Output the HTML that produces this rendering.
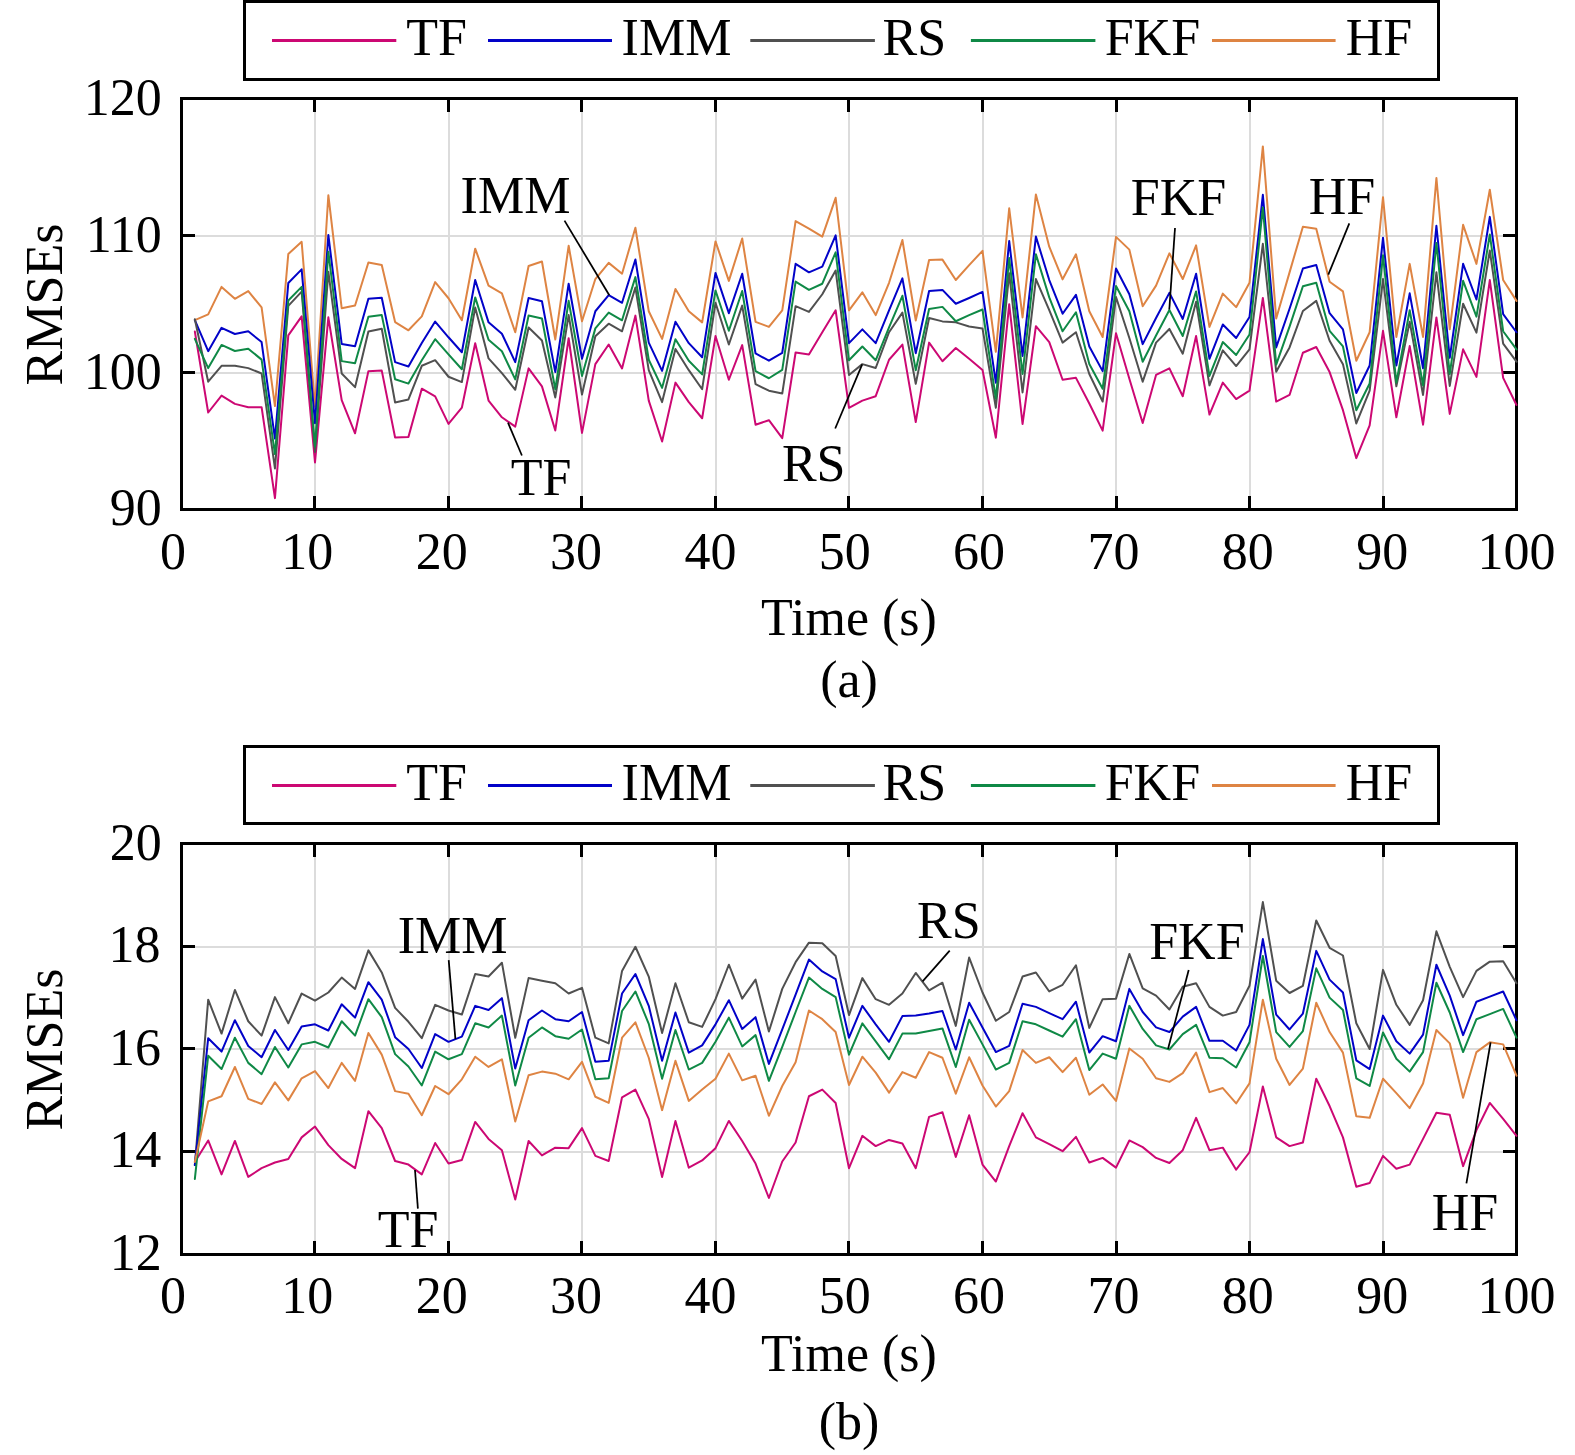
<!DOCTYPE html>
<html><head><meta charset="utf-8"><title>RMSEs</title>
<style>
html,body{margin:0;padding:0;background:#fff;}
body{width:1575px;height:1455px;overflow:hidden;}
svg{display:block;}
svg text{font-family:"Liberation Serif",serif;font-size:52px;fill:#000;}
</style></head><body>
<svg width="1575" height="1455" viewBox="0 0 1575 1455">
<rect width="1575" height="1455" fill="#fff"/>
<g id="panel-a">
<line x1="315.00" y1="98.5" x2="315.00" y2="509.5" stroke="#DCDCDC" stroke-width="2"/>
<line x1="449.00" y1="98.5" x2="449.00" y2="509.5" stroke="#DCDCDC" stroke-width="2"/>
<line x1="582.00" y1="98.5" x2="582.00" y2="509.5" stroke="#DCDCDC" stroke-width="2"/>
<line x1="716.00" y1="98.5" x2="716.00" y2="509.5" stroke="#DCDCDC" stroke-width="2"/>
<line x1="849.00" y1="98.5" x2="849.00" y2="509.5" stroke="#DCDCDC" stroke-width="2"/>
<line x1="983.00" y1="98.5" x2="983.00" y2="509.5" stroke="#DCDCDC" stroke-width="2"/>
<line x1="1116.00" y1="98.5" x2="1116.00" y2="509.5" stroke="#DCDCDC" stroke-width="2"/>
<line x1="1250.00" y1="98.5" x2="1250.00" y2="509.5" stroke="#DCDCDC" stroke-width="2"/>
<line x1="1383.00" y1="98.5" x2="1383.00" y2="509.5" stroke="#DCDCDC" stroke-width="2"/>
<line x1="181.5" y1="373.00" x2="1516.5" y2="373.00" stroke="#DCDCDC" stroke-width="2"/>
<line x1="181.5" y1="236.00" x2="1516.5" y2="236.00" stroke="#DCDCDC" stroke-width="2"/>
<line x1="314.50" y1="98.5" x2="314.50" y2="112.0" stroke="#000" stroke-width="3"/>
<line x1="314.50" y1="509.5" x2="314.50" y2="496.0" stroke="#000" stroke-width="3"/>
<line x1="448.50" y1="98.5" x2="448.50" y2="112.0" stroke="#000" stroke-width="3"/>
<line x1="448.50" y1="509.5" x2="448.50" y2="496.0" stroke="#000" stroke-width="3"/>
<line x1="581.50" y1="98.5" x2="581.50" y2="112.0" stroke="#000" stroke-width="3"/>
<line x1="581.50" y1="509.5" x2="581.50" y2="496.0" stroke="#000" stroke-width="3"/>
<line x1="715.50" y1="98.5" x2="715.50" y2="112.0" stroke="#000" stroke-width="3"/>
<line x1="715.50" y1="509.5" x2="715.50" y2="496.0" stroke="#000" stroke-width="3"/>
<line x1="848.50" y1="98.5" x2="848.50" y2="112.0" stroke="#000" stroke-width="3"/>
<line x1="848.50" y1="509.5" x2="848.50" y2="496.0" stroke="#000" stroke-width="3"/>
<line x1="982.50" y1="98.5" x2="982.50" y2="112.0" stroke="#000" stroke-width="3"/>
<line x1="982.50" y1="509.5" x2="982.50" y2="496.0" stroke="#000" stroke-width="3"/>
<line x1="1116.50" y1="98.5" x2="1116.50" y2="112.0" stroke="#000" stroke-width="3"/>
<line x1="1116.50" y1="509.5" x2="1116.50" y2="496.0" stroke="#000" stroke-width="3"/>
<line x1="1249.50" y1="98.5" x2="1249.50" y2="112.0" stroke="#000" stroke-width="3"/>
<line x1="1249.50" y1="509.5" x2="1249.50" y2="496.0" stroke="#000" stroke-width="3"/>
<line x1="1383.50" y1="98.5" x2="1383.50" y2="112.0" stroke="#000" stroke-width="3"/>
<line x1="1383.50" y1="509.5" x2="1383.50" y2="496.0" stroke="#000" stroke-width="3"/>
<line x1="181.5" y1="372.50" x2="195.0" y2="372.50" stroke="#000" stroke-width="3"/>
<line x1="1516.5" y1="372.50" x2="1503.0" y2="372.50" stroke="#000" stroke-width="3"/>
<line x1="181.5" y1="235.50" x2="195.0" y2="235.50" stroke="#000" stroke-width="3"/>
<line x1="1516.5" y1="235.50" x2="1503.0" y2="235.50" stroke="#000" stroke-width="3"/>
<rect x="181.5" y="98.5" width="1335.0" height="411.0" fill="none" stroke="#000" stroke-width="3"/>
<polyline points="194.85,331.54 208.20,412.50 221.55,395.65 234.90,403.87 248.25,407.30 261.60,407.16 274.95,498.13 288.30,335.37 301.65,316.33 315.00,462.51 328.35,317.29 341.70,400.04 355.05,433.33 368.40,371.13 381.75,370.58 395.10,437.57 408.45,436.89 421.80,388.67 435.15,396.34 448.50,423.88 461.85,407.71 475.20,343.18 488.55,400.58 501.90,417.30 515.25,426.62 528.60,368.39 541.95,386.34 555.30,430.45 568.65,338.25 582.00,432.92 595.35,364.14 608.70,344.55 622.05,368.39 635.40,315.64 648.75,400.58 662.10,441.55 675.45,382.64 688.80,402.09 702.15,418.26 715.50,336.06 728.85,379.76 742.20,345.10 755.55,424.70 768.90,420.18 782.25,438.12 795.60,352.50 808.95,354.42 822.30,332.22 835.65,310.30 849.00,407.85 862.35,400.58 875.70,396.20 889.05,359.76 902.40,344.55 915.75,422.09 929.10,342.63 942.45,361.27 955.80,347.98 969.15,358.80 982.50,369.90 995.85,437.71 1009.20,304.14 1022.55,424.01 1035.90,326.19 1049.25,342.09 1062.60,379.76 1075.95,377.84 1089.30,403.46 1102.65,430.59 1116.00,333.18 1129.35,378.80 1142.70,422.92 1156.05,374.97 1169.40,368.39 1182.75,396.20 1196.10,336.06 1209.45,414.56 1222.80,382.64 1236.15,399.08 1249.50,390.72 1262.85,297.97 1276.20,401.54 1289.55,394.97 1302.90,352.77 1316.25,347.02 1329.60,372.09 1342.95,410.18 1356.30,458.12 1369.65,425.38 1383.00,330.85 1396.35,417.30 1409.70,346.06 1423.05,424.70 1436.40,317.43 1449.75,413.87 1463.10,349.35 1476.45,376.88 1489.80,280.02 1503.15,377.84 1516.50,404.97" fill="none" stroke="#CC0873" stroke-width="2" stroke-linejoin="round" stroke-linecap="round"/>
<polyline points="194.85,320.17 208.20,314.41 221.55,286.88 234.90,298.79 248.25,291.12 261.60,307.43 274.95,406.07 288.30,253.99 301.65,241.80 315.00,406.75 328.35,195.22 341.70,308.25 355.05,305.51 368.40,262.49 381.75,264.96 395.10,322.08 408.45,330.30 421.80,316.33 435.15,282.08 448.50,298.25 461.85,320.30 475.20,248.65 488.55,285.64 501.90,293.31 515.25,332.22 528.60,266.05 541.95,261.53 555.30,339.48 568.65,245.77 582.00,321.26 595.35,279.07 608.70,262.90 622.05,273.72 635.40,227.69 648.75,311.26 662.10,338.93 675.45,288.93 688.80,311.26 702.15,322.36 715.50,241.39 728.85,280.85 742.20,238.51 755.55,321.81 768.90,326.88 782.25,310.30 795.60,221.12 808.95,228.65 822.30,236.60 835.65,197.82 849.00,310.30 862.35,292.36 875.70,315.10 889.05,282.76 902.40,240.02 915.75,320.44 929.10,260.02 942.45,259.61 955.80,280.02 969.15,265.09 982.50,250.84 995.85,351.81 1009.20,208.37 1022.55,317.43 1035.90,194.40 1049.25,246.73 1062.60,279.34 1075.95,254.27 1089.30,311.26 1102.65,337.02 1116.00,236.87 1129.35,249.61 1142.70,306.19 1156.05,285.64 1169.40,253.31 1182.75,279.07 1196.10,245.36 1209.45,326.88 1222.80,293.59 1236.15,307.15 1249.50,282.76 1262.85,146.45 1276.20,318.52 1289.55,272.35 1302.90,226.73 1316.25,228.65 1329.60,281.81 1342.95,291.40 1356.30,360.72 1369.65,332.22 1383.00,197.14 1396.35,337.02 1409.70,263.86 1423.05,337.02 1436.40,177.96 1449.75,329.34 1463.10,224.81 1476.45,263.86 1489.80,189.74 1503.15,280.02 1516.50,300.85" fill="none" stroke="#DE8443" stroke-width="2" stroke-linejoin="round" stroke-linecap="round"/>
<polyline points="194.85,320.17 208.20,351.13 221.55,327.84 234.90,334.00 248.25,331.26 261.60,342.09 274.95,438.53 288.30,283.04 301.65,269.34 315.00,423.19 328.35,234.95 341.70,344.00 355.05,346.20 368.40,298.79 381.75,297.70 395.10,362.09 408.45,366.47 421.80,343.04 435.15,321.54 448.50,337.29 461.85,352.22 475.20,280.02 488.55,322.36 501.90,333.73 515.25,362.09 528.60,297.97 541.95,301.26 555.30,372.09 568.65,283.72 582.00,358.80 595.35,311.26 608.70,295.23 622.05,302.77 635.40,259.48 648.75,342.63 662.10,370.86 675.45,321.81 688.80,343.18 702.15,357.29 715.50,272.90 728.85,313.18 742.20,273.72 755.55,353.46 768.90,360.72 782.25,352.77 795.60,263.86 808.95,272.35 822.30,266.60 835.65,235.36 849.00,343.18 862.35,329.34 875.70,343.18 889.05,310.30 902.40,278.38 915.75,353.18 929.10,290.99 942.45,289.89 955.80,303.73 969.15,297.97 982.50,291.94 995.85,382.64 1009.20,240.98 1022.55,355.92 1035.90,236.60 1049.25,280.02 1062.60,313.73 1075.95,294.82 1089.30,346.47 1102.65,371.13 1116.00,268.52 1129.35,294.27 1142.70,344.14 1156.05,317.97 1169.40,292.90 1182.75,318.93 1196.10,273.72 1209.45,358.80 1222.80,324.55 1236.15,337.98 1249.50,317.01 1262.85,194.81 1276.20,347.43 1289.55,308.79 1302.90,268.52 1316.25,265.09 1329.60,313.18 1342.95,329.34 1356.30,393.05 1369.65,365.51 1383.00,237.83 1396.35,365.51 1409.70,293.31 1423.05,368.25 1436.40,225.77 1449.75,357.84 1463.10,263.86 1476.45,299.48 1489.80,216.87 1503.15,314.14 1516.50,332.22" fill="none" stroke="#0202C8" stroke-width="2" stroke-linejoin="round" stroke-linecap="round"/>
<polyline points="194.85,319.21 208.20,381.68 221.55,365.79 234.90,365.79 248.25,368.12 261.60,373.46 274.95,468.40 288.30,305.92 301.65,291.67 315.00,451.96 328.35,271.67 341.70,373.46 355.05,387.16 368.40,331.54 381.75,328.80 395.10,402.50 408.45,399.49 421.80,365.79 435.15,360.17 448.50,376.75 461.85,382.09 475.20,307.56 488.55,358.39 501.90,373.05 515.25,389.76 528.60,327.43 541.95,340.44 555.30,397.43 568.65,315.10 582.00,394.56 595.35,336.33 608.70,323.73 622.05,331.26 635.40,287.56 648.75,370.17 662.10,402.09 675.45,348.94 688.80,370.17 702.15,389.21 715.50,302.77 728.85,344.55 742.20,305.64 755.55,384.14 768.90,390.72 782.25,393.60 795.60,306.19 808.95,311.95 822.30,294.27 835.65,270.43 849.00,374.97 862.35,364.14 875.70,367.98 889.05,332.22 902.40,312.63 915.75,383.87 929.10,317.97 942.45,321.40 955.80,322.36 969.15,326.47 982.50,328.39 995.85,407.71 1009.20,273.31 1022.55,392.50 1035.90,279.07 1049.25,310.03 1062.60,342.63 1075.95,332.22 1089.30,374.01 1102.65,401.54 1116.00,297.01 1129.35,337.98 1142.70,381.68 1156.05,342.63 1169.40,328.93 1182.75,353.73 1196.10,301.81 1209.45,385.38 1222.80,350.31 1236.15,366.06 1249.50,349.35 1262.85,243.86 1276.20,371.68 1289.55,347.43 1302.90,310.99 1316.25,300.85 1329.60,340.72 1342.95,364.14 1356.30,423.46 1369.65,390.72 1383.00,279.07 1396.35,386.34 1409.70,321.81 1423.05,394.97 1436.40,272.35 1449.75,385.93 1463.10,303.73 1476.45,332.63 1489.80,250.57 1503.15,343.59 1516.50,361.68" fill="none" stroke="#505050" stroke-width="2" stroke-linejoin="round" stroke-linecap="round"/>
<polyline points="194.85,338.80 208.20,368.12 221.55,344.96 234.90,350.99 248.25,348.66 261.60,359.62 274.95,454.02 288.30,300.57 301.65,286.88 315.00,446.48 328.35,251.67 341.70,361.13 355.05,363.32 368.40,316.74 381.75,315.10 395.10,379.21 408.45,383.60 421.80,360.17 435.15,339.21 448.50,354.42 461.85,369.21 475.20,297.42 488.55,339.76 501.90,351.26 515.25,379.35 528.60,315.51 541.95,318.52 555.30,389.21 568.65,300.85 582.00,375.93 595.35,328.39 608.70,312.63 622.05,320.30 635.40,277.15 648.75,359.76 662.10,387.84 675.45,339.21 688.80,360.72 702.15,374.42 715.50,290.44 728.85,330.72 742.20,290.99 755.55,371.13 768.90,378.25 782.25,369.90 795.60,281.53 808.95,289.89 822.30,283.72 835.65,252.35 849.00,360.31 862.35,346.47 875.70,360.31 889.05,327.43 902.40,295.78 915.75,370.17 929.10,309.07 942.45,306.88 955.80,321.26 969.15,315.10 982.50,309.48 995.85,398.53 1009.20,258.11 1022.55,374.01 1035.90,254.27 1049.25,297.42 1062.60,331.26 1075.95,312.22 1089.30,364.01 1102.65,388.67 1116.00,286.05 1129.35,311.26 1142.70,361.68 1156.05,335.51 1169.40,310.03 1182.75,336.06 1196.10,291.40 1209.45,375.93 1222.80,342.09 1236.15,354.96 1249.50,334.55 1262.85,207.42 1276.20,364.55 1289.55,326.61 1302.90,286.19 1316.25,282.76 1329.60,330.85 1342.95,346.47 1356.30,410.18 1369.65,383.46 1383.00,255.23 1396.35,382.64 1409.70,310.30 1423.05,385.38 1436.40,242.90 1449.75,374.01 1463.10,280.85 1476.45,316.60 1489.80,234.40 1503.15,331.26 1516.50,349.35" fill="none" stroke="#0F8946" stroke-width="2" stroke-linejoin="round" stroke-linecap="round"/>
<text x="161.8" y="525.10" text-anchor="end">90</text>
<text x="161.8" y="389.10" text-anchor="end">100</text>
<text x="161.8" y="252.10" text-anchor="end">110</text>
<text x="161.8" y="115.10" text-anchor="end">120</text>
<text x="173.00" y="569.3" text-anchor="middle">0</text>
<text x="307.35" y="569.3" text-anchor="middle">10</text>
<text x="441.70" y="569.3" text-anchor="middle">20</text>
<text x="576.05" y="569.3" text-anchor="middle">30</text>
<text x="710.40" y="569.3" text-anchor="middle">40</text>
<text x="844.75" y="569.3" text-anchor="middle">50</text>
<text x="979.10" y="569.3" text-anchor="middle">60</text>
<text x="1113.45" y="569.3" text-anchor="middle">70</text>
<text x="1247.80" y="569.3" text-anchor="middle">80</text>
<text x="1382.15" y="569.3" text-anchor="middle">90</text>
<text x="1516.50" y="569.3" text-anchor="middle">100</text>
<text x="849" y="635.2" text-anchor="middle">Time (s)</text>
<text x="849" y="697.2" text-anchor="middle">(a)</text>
<text transform="translate(62,304.50) rotate(-90)" text-anchor="middle">RMSEs</text>
<rect x="244.5" y="1.5" width="1194.0" height="78.0" fill="#fff" stroke="#000" stroke-width="3"/>
<line x1="272" y1="40.45" x2="396.3" y2="40.45" stroke="#CC0873" stroke-width="3"/>
<text x="406.3" y="55.4">TF</text>
<line x1="488" y1="40.45" x2="612" y2="40.45" stroke="#0202C8" stroke-width="3"/>
<text x="621.6" y="55.4">IMM</text>
<line x1="750.3" y1="40.45" x2="874.9" y2="40.45" stroke="#505050" stroke-width="3"/>
<text x="882.6" y="55.4">RS</text>
<line x1="970.9" y1="40.45" x2="1095.4" y2="40.45" stroke="#0F8946" stroke-width="3"/>
<text x="1104.7" y="55.4">FKF</text>
<line x1="1212" y1="40.45" x2="1335.6" y2="40.45" stroke="#DE8443" stroke-width="3"/>
<text x="1345.7" y="55.4">HF</text>
<line x1="564.5" y1="220.6" x2="609.3" y2="295.2" stroke="#000" stroke-width="1.75"/>
<text x="460.6" y="212.8">IMM</text>
<line x1="508" y1="422.7" x2="521.9" y2="455.5" stroke="#000" stroke-width="1.75"/>
<text x="510.7" y="495.0">TF</text>
<line x1="862.2" y1="364.4" x2="835.2" y2="428.5" stroke="#000" stroke-width="1.75"/>
<text x="781.9" y="481.2">RS</text>
<line x1="1175" y1="228" x2="1169.3" y2="309.5" stroke="#000" stroke-width="1.75"/>
<text x="1130.8" y="215.2">FKF</text>
<line x1="1349.3" y1="223.4" x2="1328.3" y2="274.7" stroke="#000" stroke-width="1.75"/>
<text x="1308.8" y="214.3">HF</text>
</g>
<g id="panel-b">
<line x1="315.00" y1="843.5" x2="315.00" y2="1254.5" stroke="#DCDCDC" stroke-width="2"/>
<line x1="449.00" y1="843.5" x2="449.00" y2="1254.5" stroke="#DCDCDC" stroke-width="2"/>
<line x1="582.00" y1="843.5" x2="582.00" y2="1254.5" stroke="#DCDCDC" stroke-width="2"/>
<line x1="716.00" y1="843.5" x2="716.00" y2="1254.5" stroke="#DCDCDC" stroke-width="2"/>
<line x1="849.00" y1="843.5" x2="849.00" y2="1254.5" stroke="#DCDCDC" stroke-width="2"/>
<line x1="983.00" y1="843.5" x2="983.00" y2="1254.5" stroke="#DCDCDC" stroke-width="2"/>
<line x1="1116.00" y1="843.5" x2="1116.00" y2="1254.5" stroke="#DCDCDC" stroke-width="2"/>
<line x1="1250.00" y1="843.5" x2="1250.00" y2="1254.5" stroke="#DCDCDC" stroke-width="2"/>
<line x1="1383.00" y1="843.5" x2="1383.00" y2="1254.5" stroke="#DCDCDC" stroke-width="2"/>
<line x1="181.5" y1="1152.00" x2="1516.5" y2="1152.00" stroke="#DCDCDC" stroke-width="2"/>
<line x1="181.5" y1="1049.00" x2="1516.5" y2="1049.00" stroke="#DCDCDC" stroke-width="2"/>
<line x1="181.5" y1="947.00" x2="1516.5" y2="947.00" stroke="#DCDCDC" stroke-width="2"/>
<line x1="314.50" y1="843.5" x2="314.50" y2="857.0" stroke="#000" stroke-width="3"/>
<line x1="314.50" y1="1254.5" x2="314.50" y2="1241.0" stroke="#000" stroke-width="3"/>
<line x1="448.50" y1="843.5" x2="448.50" y2="857.0" stroke="#000" stroke-width="3"/>
<line x1="448.50" y1="1254.5" x2="448.50" y2="1241.0" stroke="#000" stroke-width="3"/>
<line x1="581.50" y1="843.5" x2="581.50" y2="857.0" stroke="#000" stroke-width="3"/>
<line x1="581.50" y1="1254.5" x2="581.50" y2="1241.0" stroke="#000" stroke-width="3"/>
<line x1="715.50" y1="843.5" x2="715.50" y2="857.0" stroke="#000" stroke-width="3"/>
<line x1="715.50" y1="1254.5" x2="715.50" y2="1241.0" stroke="#000" stroke-width="3"/>
<line x1="848.50" y1="843.5" x2="848.50" y2="857.0" stroke="#000" stroke-width="3"/>
<line x1="848.50" y1="1254.5" x2="848.50" y2="1241.0" stroke="#000" stroke-width="3"/>
<line x1="982.50" y1="843.5" x2="982.50" y2="857.0" stroke="#000" stroke-width="3"/>
<line x1="982.50" y1="1254.5" x2="982.50" y2="1241.0" stroke="#000" stroke-width="3"/>
<line x1="1116.50" y1="843.5" x2="1116.50" y2="857.0" stroke="#000" stroke-width="3"/>
<line x1="1116.50" y1="1254.5" x2="1116.50" y2="1241.0" stroke="#000" stroke-width="3"/>
<line x1="1249.50" y1="843.5" x2="1249.50" y2="857.0" stroke="#000" stroke-width="3"/>
<line x1="1249.50" y1="1254.5" x2="1249.50" y2="1241.0" stroke="#000" stroke-width="3"/>
<line x1="1383.50" y1="843.5" x2="1383.50" y2="857.0" stroke="#000" stroke-width="3"/>
<line x1="1383.50" y1="1254.5" x2="1383.50" y2="1241.0" stroke="#000" stroke-width="3"/>
<line x1="181.5" y1="1151.50" x2="195.0" y2="1151.50" stroke="#000" stroke-width="3"/>
<line x1="1516.5" y1="1151.50" x2="1503.0" y2="1151.50" stroke="#000" stroke-width="3"/>
<line x1="181.5" y1="1048.50" x2="195.0" y2="1048.50" stroke="#000" stroke-width="3"/>
<line x1="1516.5" y1="1048.50" x2="1503.0" y2="1048.50" stroke="#000" stroke-width="3"/>
<line x1="181.5" y1="946.50" x2="195.0" y2="946.50" stroke="#000" stroke-width="3"/>
<line x1="1516.5" y1="946.50" x2="1503.0" y2="946.50" stroke="#000" stroke-width="3"/>
<rect x="181.5" y="843.5" width="1335.0" height="411.0" fill="none" stroke="#000" stroke-width="3"/>
<polyline points="194.85,1162.02 208.20,1140.45 221.55,1174.36 234.90,1140.96 248.25,1176.92 261.60,1168.19 274.95,1162.54 288.30,1158.94 301.65,1137.37 315.00,1126.58 328.35,1145.07 341.70,1158.94 355.05,1168.19 368.40,1111.16 381.75,1128.12 395.10,1161.00 408.45,1164.59 421.80,1174.36 435.15,1143.02 448.50,1163.57 461.85,1159.97 475.20,1121.95 488.55,1138.91 501.90,1150.21 515.25,1199.53 528.60,1140.96 541.95,1155.35 555.30,1147.64 568.65,1148.15 582.00,1128.12 595.35,1155.86 608.70,1161.00 622.05,1097.29 635.40,1089.59 648.75,1118.87 662.10,1176.92 675.45,1120.92 688.80,1167.68 702.15,1160.48 715.50,1148.15 728.85,1120.92 742.20,1140.96 755.55,1163.57 768.90,1197.99 782.25,1161.51 795.60,1142.50 808.95,1096.26 822.30,1089.59 835.65,1102.94 849.00,1168.19 862.35,1135.82 875.70,1146.10 889.05,1139.93 902.40,1143.53 915.75,1168.19 929.10,1116.82 942.45,1112.19 955.80,1156.89 969.15,1115.27 982.50,1164.59 995.85,1181.55 1009.20,1146.10 1022.55,1113.22 1035.90,1137.37 1049.25,1144.04 1062.60,1151.24 1075.95,1136.85 1089.30,1162.54 1102.65,1157.91 1116.00,1167.68 1129.35,1140.45 1142.70,1147.13 1156.05,1157.91 1169.40,1163.05 1182.75,1150.21 1196.10,1117.84 1209.45,1150.21 1222.80,1147.64 1236.15,1169.73 1249.50,1152.26 1262.85,1086.50 1276.20,1137.37 1289.55,1146.10 1302.90,1142.50 1316.25,1078.80 1329.60,1106.03 1342.95,1137.37 1356.30,1186.68 1369.65,1183.09 1383.00,1155.86 1396.35,1168.70 1409.70,1164.59 1423.05,1138.91 1436.40,1112.70 1449.75,1114.76 1463.10,1166.13 1476.45,1130.17 1489.80,1102.94 1503.15,1118.87 1516.50,1135.82" fill="none" stroke="#CC0873" stroke-width="2" stroke-linejoin="round" stroke-linecap="round"/>
<polyline points="194.85,1165.11 208.20,999.68 221.55,1033.59 234.90,989.92 248.25,1021.26 261.60,1035.64 274.95,997.11 288.30,1023.31 301.65,993.52 315.00,1000.71 328.35,992.49 341.70,977.59 355.05,988.89 368.40,950.36 381.75,972.45 395.10,1007.90 408.45,1021.77 421.80,1038.21 435.15,1004.82 448.50,1010.47 461.85,1014.58 475.20,973.99 488.55,976.56 501.90,962.69 515.25,1037.70 528.60,978.10 541.95,980.67 555.30,983.24 568.65,993.52 582.00,987.86 595.35,1037.70 608.70,1043.35 622.05,970.91 635.40,946.76 648.75,976.56 662.10,1033.07 675.45,983.24 688.80,1022.29 702.15,1026.91 715.50,999.17 728.85,964.74 742.20,998.65 755.55,979.64 768.90,1031.53 782.25,988.89 795.60,962.18 808.95,942.65 822.30,943.17 835.65,956.01 849.00,1015.09 862.35,978.10 875.70,999.17 889.05,1004.82 902.40,993.52 915.75,972.96 929.10,990.43 942.45,982.73 955.80,1025.88 969.15,957.55 982.50,992.49 995.85,1020.74 1009.20,1012.01 1022.55,976.56 1035.90,972.45 1049.25,991.46 1062.60,984.78 1075.95,965.26 1089.30,1027.94 1102.65,999.17 1116.00,998.65 1129.35,953.96 1142.70,988.38 1156.05,995.57 1169.40,1009.44 1182.75,986.84 1196.10,983.24 1209.45,1006.87 1222.80,1015.61 1236.15,1012.01 1249.50,985.81 1262.85,902.07 1276.20,980.67 1289.55,993.00 1302.90,985.81 1316.25,920.56 1329.60,947.79 1342.95,955.50 1356.30,1023.31 1369.65,1049.00 1383.00,969.88 1396.35,1004.82 1409.70,1024.85 1423.05,1000.19 1436.40,931.35 1449.75,966.80 1463.10,997.11 1476.45,970.91 1489.80,961.66 1503.15,961.15 1516.50,983.24" fill="none" stroke="#505050" stroke-width="2" stroke-linejoin="round" stroke-linecap="round"/>
<polyline points="194.85,1165.11 208.20,1038.21 221.55,1051.57 234.90,1020.23 248.25,1045.92 261.60,1057.22 274.95,1029.99 288.30,1050.03 301.65,1026.39 315.00,1024.34 328.35,1030.51 341.70,1004.30 355.05,1017.66 368.40,982.21 381.75,999.68 395.10,1037.18 408.45,1049.00 421.80,1068.01 435.15,1034.10 448.50,1041.81 461.85,1036.67 475.20,1005.85 488.55,1009.95 501.90,998.14 515.25,1068.52 528.60,1020.23 541.95,1010.47 555.30,1019.20 568.65,1021.26 582.00,1012.01 595.35,1061.84 608.70,1060.82 622.05,993.52 635.40,973.99 648.75,1005.85 662.10,1060.82 675.45,1012.52 688.80,1052.60 702.15,1045.40 715.50,1024.34 728.85,1000.19 742.20,1028.96 755.55,1017.15 768.90,1063.90 782.25,1029.48 795.60,994.54 808.95,959.61 822.30,971.42 835.65,979.13 849.00,1037.70 862.35,1005.85 875.70,1024.34 889.05,1041.81 902.40,1016.12 915.75,1015.61 929.10,1013.55 942.45,1010.98 955.80,1049.51 969.15,1002.76 982.50,1027.42 995.85,1052.08 1009.20,1045.92 1022.55,1003.79 1035.90,1006.87 1049.25,1013.04 1062.60,1019.20 1075.95,1001.73 1089.30,1052.60 1102.65,1036.16 1116.00,1041.29 1129.35,988.89 1142.70,1012.01 1156.05,1027.42 1169.40,1032.05 1182.75,1016.63 1196.10,1006.87 1209.45,1040.78 1222.80,1040.78 1236.15,1050.54 1249.50,1024.85 1262.85,939.06 1276.20,1014.58 1289.55,1029.48 1302.90,1013.55 1316.25,950.87 1329.60,979.64 1342.95,992.49 1356.30,1060.30 1369.65,1069.04 1383.00,1015.61 1396.35,1041.29 1409.70,1053.62 1423.05,1034.62 1436.40,964.74 1449.75,995.57 1463.10,1035.13 1476.45,1001.73 1489.80,996.60 1503.15,991.46 1516.50,1020.23" fill="none" stroke="#0202C8" stroke-width="2" stroke-linejoin="round" stroke-linecap="round"/>
<polyline points="194.85,1178.98 208.20,1055.68 221.55,1069.04 234.90,1037.70 248.25,1062.87 261.60,1074.17 274.95,1046.95 288.30,1067.49 301.65,1044.38 315.00,1041.81 328.35,1047.46 341.70,1021.26 355.05,1035.64 368.40,999.17 381.75,1017.15 395.10,1054.14 408.45,1066.47 421.80,1085.48 435.15,1051.57 448.50,1059.28 461.85,1054.14 475.20,1023.31 488.55,1027.42 501.90,1015.61 515.25,1085.48 528.60,1037.70 541.95,1027.42 555.30,1036.16 568.65,1038.72 582.00,1029.48 595.35,1079.31 608.70,1078.28 622.05,1010.98 635.40,991.46 648.75,1023.83 662.10,1078.80 675.45,1029.99 688.80,1069.55 702.15,1062.87 715.50,1041.81 728.85,1017.66 742.20,1046.43 755.55,1035.13 768.90,1080.85 782.25,1046.95 795.60,1012.01 808.95,977.59 822.30,988.89 835.65,997.11 849.00,1054.65 862.35,1023.31 875.70,1041.29 889.05,1059.28 902.40,1033.59 915.75,1033.59 929.10,1031.02 942.45,1028.45 955.80,1066.98 969.15,1019.72 982.50,1044.38 995.85,1069.55 1009.20,1062.87 1022.55,1021.26 1035.90,1024.34 1049.25,1030.51 1062.60,1036.67 1075.95,1019.20 1089.30,1070.06 1102.65,1053.62 1116.00,1058.76 1129.35,1005.85 1142.70,1028.96 1156.05,1045.40 1169.40,1049.51 1182.75,1034.10 1196.10,1024.85 1209.45,1057.73 1222.80,1058.25 1236.15,1067.49 1249.50,1042.32 1262.85,956.01 1276.20,1032.05 1289.55,1046.95 1302.90,1031.02 1316.25,968.34 1329.60,997.62 1342.95,1009.95 1356.30,1078.28 1369.65,1085.99 1383.00,1032.56 1396.35,1058.76 1409.70,1071.61 1423.05,1052.08 1436.40,982.73 1449.75,1012.52 1463.10,1052.08 1476.45,1019.20 1489.80,1014.07 1503.15,1008.93 1516.50,1037.70" fill="none" stroke="#0F8946" stroke-width="2" stroke-linejoin="round" stroke-linecap="round"/>
<polyline points="194.85,1162.02 208.20,1101.40 221.55,1096.26 234.90,1066.98 248.25,1098.83 261.60,1103.97 274.95,1082.39 288.30,1100.38 301.65,1078.28 315.00,1071.09 328.35,1088.05 341.70,1062.87 355.05,1080.85 368.40,1033.07 381.75,1054.65 395.10,1091.13 408.45,1093.70 421.80,1115.27 435.15,1085.99 448.50,1094.21 461.85,1079.31 475.20,1056.71 488.55,1066.98 501.90,1059.28 515.25,1121.44 528.60,1075.20 541.95,1071.61 555.30,1073.66 568.65,1079.31 582.00,1061.84 595.35,1096.78 608.70,1102.94 622.05,1037.70 635.40,1022.29 648.75,1057.73 662.10,1110.14 675.45,1060.82 688.80,1100.89 702.15,1089.59 715.50,1078.80 728.85,1053.62 742.20,1080.34 755.55,1075.71 768.90,1115.79 782.25,1085.99 795.60,1062.36 808.95,1010.47 822.30,1019.20 835.65,1032.05 849.00,1084.96 862.35,1056.71 875.70,1072.63 889.05,1092.67 902.40,1072.12 915.75,1077.77 929.10,1052.08 942.45,1057.73 955.80,1093.70 969.15,1057.22 982.50,1085.48 995.85,1106.54 1009.20,1091.13 1022.55,1050.03 1035.90,1062.87 1049.25,1057.22 1062.60,1072.12 1075.95,1057.73 1089.30,1094.72 1102.65,1084.45 1116.00,1100.89 1129.35,1048.49 1142.70,1058.76 1156.05,1078.28 1169.40,1081.88 1182.75,1073.15 1196.10,1052.60 1209.45,1092.15 1222.80,1088.05 1236.15,1103.46 1249.50,1083.42 1262.85,999.68 1276.20,1058.76 1289.55,1084.96 1302.90,1068.52 1316.25,1002.76 1329.60,1032.05 1342.95,1052.60 1356.30,1116.30 1369.65,1117.84 1383.00,1078.80 1396.35,1093.18 1409.70,1108.08 1423.05,1083.42 1436.40,1029.99 1449.75,1043.35 1463.10,1097.81 1476.45,1052.08 1489.80,1042.32 1503.15,1044.38 1516.50,1075.71" fill="none" stroke="#DE8443" stroke-width="2" stroke-linejoin="round" stroke-linecap="round"/>
<text x="161.8" y="1269.60" text-anchor="end">12</text>
<text x="161.3" y="1166.95" text-anchor="end">14</text>
<text x="161.0" y="1064.50" text-anchor="end">16</text>
<text x="160.60000000000002" y="961.85" text-anchor="end">18</text>
<text x="161.8" y="859.60" text-anchor="end">20</text>
<text x="173.00" y="1312.6" text-anchor="middle">0</text>
<text x="307.35" y="1312.6" text-anchor="middle">10</text>
<text x="441.70" y="1312.6" text-anchor="middle">20</text>
<text x="576.05" y="1312.6" text-anchor="middle">30</text>
<text x="710.40" y="1312.6" text-anchor="middle">40</text>
<text x="844.75" y="1312.6" text-anchor="middle">50</text>
<text x="979.10" y="1312.6" text-anchor="middle">60</text>
<text x="1113.45" y="1312.6" text-anchor="middle">70</text>
<text x="1247.80" y="1312.6" text-anchor="middle">80</text>
<text x="1382.15" y="1312.6" text-anchor="middle">90</text>
<text x="1516.50" y="1312.6" text-anchor="middle">100</text>
<text x="849" y="1371.0" text-anchor="middle">Time (s)</text>
<text x="849" y="1438.7" text-anchor="middle">(b)</text>
<text transform="translate(62,1049.50) rotate(-90)" text-anchor="middle">RMSEs</text>
<rect x="244.5" y="746.5" width="1194.0" height="77.0" fill="#fff" stroke="#000" stroke-width="3"/>
<line x1="272" y1="785.45" x2="396.3" y2="785.45" stroke="#CC0873" stroke-width="3"/>
<text x="406.3" y="800.4">TF</text>
<line x1="488" y1="785.45" x2="612" y2="785.45" stroke="#0202C8" stroke-width="3"/>
<text x="621.6" y="800.4">IMM</text>
<line x1="750.3" y1="785.45" x2="874.9" y2="785.45" stroke="#505050" stroke-width="3"/>
<text x="882.6" y="800.4">RS</text>
<line x1="970.9" y1="785.45" x2="1095.4" y2="785.45" stroke="#0F8946" stroke-width="3"/>
<text x="1104.7" y="800.4">FKF</text>
<line x1="1212" y1="785.45" x2="1335.6" y2="785.45" stroke="#DE8443" stroke-width="3"/>
<text x="1345.7" y="800.4">HF</text>
<line x1="448.7" y1="960.1" x2="455.4" y2="1039.1" stroke="#000" stroke-width="1.75"/>
<text x="397.7" y="952.9">IMM</text>
<line x1="415" y1="1170" x2="417.9" y2="1208.6" stroke="#000" stroke-width="1.75"/>
<text x="377.7" y="1246.6">TF</text>
<line x1="949.7" y1="950.6" x2="922.6" y2="981.4" stroke="#000" stroke-width="1.75"/>
<text x="917" y="938.2">RS</text>
<line x1="1188.7" y1="970" x2="1168" y2="1049" stroke="#000" stroke-width="1.75"/>
<text x="1149.2" y="958.9">FKF</text>
<line x1="1490.6" y1="1042.4" x2="1466.4" y2="1183.4" stroke="#000" stroke-width="1.75"/>
<text x="1431.8" y="1230.4">HF</text>
</g>
</svg>
</body></html>
